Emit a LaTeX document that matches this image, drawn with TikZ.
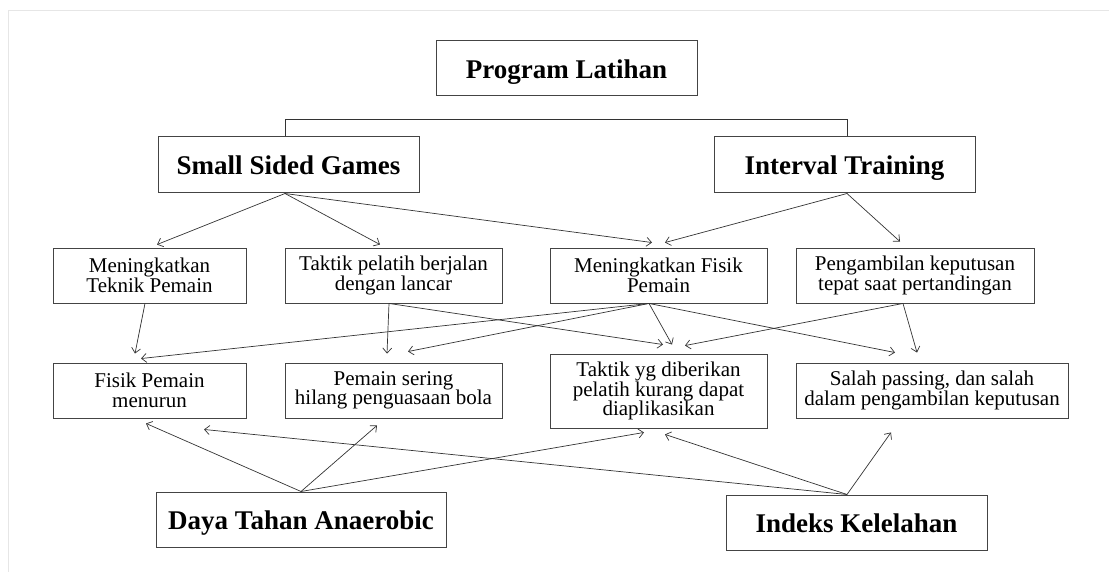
\documentclass[tikz,border=0pt]{standalone}
\usepackage{fontspec}
\setmainfont{Liberation Serif}
\usetikzlibrary{arrows.meta,calc}
\definecolor{boxline}{HTML}{444444}
\definecolor{arrline}{HTML}{333333}
\definecolor{frameline}{HTML}{E6E6E6}
\tikzset{
  bigbox/.style={draw=boxline,line width=1pt,minimum height=55pt,inner sep=0pt,
    text height=20pt,text depth=0pt,
    font=\fontsize{27}{27}\selectfont\bfseries},
  smallbox/.style={draw=boxline,line width=0.9pt,minimum height=55pt,inner sep=0pt,align=center,
    font=\fontsize{21}{19.5}\selectfont},
  conn/.style={draw=arrline,line width=0.7pt,-{Straight Barb[length=5pt,width=9pt]}},
  plain/.style={draw=arrline,line width=0.8pt}
}
\begin{document}
\begin{tikzpicture}[x=1pt,y=-1pt]
\useasboundingbox (0,0) rectangle (1109,572);
\draw[frameline,line width=1pt] (8,572) -- (8,11) -- (1109,11);

% nodes
\node[bigbox,minimum width=261pt] (PL) at (566.5,68.5) {Program Latihan};
\node[bigbox,minimum width=261pt,minimum height=56pt] (SSG) at (288.5,165) {Small Sided Games};
\node[bigbox,minimum width=261pt,minimum height=56pt] (IT) at (844.5,165) {Interval Training};

\node[smallbox,minimum width=193pt] (MT) at (149.5,275.5) {Meningkatkan\\Teknik Pemain};
\node[smallbox,minimum width=217pt] (TP) at (393.5,275.5) {Taktik pelatih berjalan\\dengan lancar};
\node[smallbox,minimum width=217pt] (MF) at (658.5,275.5) {Meningkatkan Fisik\\Pemain};
\node[smallbox,minimum width=238pt] (PK) at (915,275.5) {Pengambilan keputusan\\tepat saat pertandingan};

\node[smallbox,minimum width=193pt] (FM) at (149.5,390.5) {Fisik Pemain\\menurun};
\node[smallbox,minimum width=217pt] (PS) at (393.5,390.5) {Pemain sering\\hilang penguasaan bola};
\node[smallbox,minimum width=217pt,minimum height=74pt] (TY) at (658.5,391) {Taktik yg diberikan\\pelatih kurang dapat\\diaplikasikan};
\node[smallbox,minimum width=272pt] (SP) at (932,390.5) {Salah passing, dan salah\\dalam pengambilan keputusan};

\node[bigbox,minimum width=290pt] (DT) at (301,519.5) {Daya Tahan Anaerobic};
\node[bigbox,minimum width=261pt] (IK) at (856.5,522.5) {Indeks Kelelahan};

% bracket
\draw[plain] ($(SSG.north)+(-3.5,0)$) -- ($(SSG.north)+(-3.5,-17)$) -| ($(IT.north)+(2.5,0)$);

% level 1 -> level 2
\draw[conn] ($(SSG.south)+(-3.5,0)$) -- ($(MT.north)+(7.5,-3)$);
\draw[conn] ($(SSG.south)+(-3.5,0)$) -- ($(TP.north)+(-13.5,-3)$);
\draw[conn] ($(SSG.south)+(-3.5,0)$) -- ($(MF.north)+(-6.5,-5)$);
\draw[conn] ($(IT.south)+(2.5,0)$) -- ($(MF.north)+(6.5,-5)$);
\draw[conn] ($(IT.south)+(2.5,0)$) -- ($(PK.north)+(-15,-6)$);

% level 2 -> level 3
\draw[conn] ($(MT.south)+(-4.5,0)$) -- ($(FM.north)+(-14.5,-9)$);
\draw[conn] ($(TP.south)+(-4.5,0)$) -- ($(PS.north)+(-6.5,-9)$);
\draw[conn] ($(TP.south)+(-4.5,0)$) -- ($(TY.north)+(4.5,-9)$);
\draw[conn] ($(MF.south)+(-9.5,0)$) -- ($(FM.north)+(-8.5,-4)$);
\draw[conn] ($(MF.south)+(-9.5,0)$) -- ($(PS.north)+(14.5,-11)$);
\draw[conn] ($(MF.south)+(-9.5,0)$) -- ($(TY.north)+(13.5,-9)$);
\draw[conn] ($(MF.south)+(-9.5,0)$) -- ($(SP.north)+(-37,-10)$);
\draw[conn] ($(PK.south)+(-12,0)$) -- ($(TY.north)+(26.5,-8)$);
\draw[conn] ($(PK.south)+(-12,0)$) -- ($(SP.north)+(-15,-10)$);

% bottom -> level 3
\draw[conn] (DT.north) -- ($(FM.south)+(-3.5,5)$);
\draw[conn] (DT.north) -- ($(PS.south)+(-16.5,7)$);
\draw[conn] (DT.north) -- ($(TY.south)+(-14.5,4)$);
\draw[conn] ($(IK.north)+(-9.5,0)$) -- ($(FM.south)+(54.5,11)$);
\draw[conn] ($(IK.north)+(-9.5,0)$) -- ($(TY.south)+(6.5,6)$);
\draw[conn] ($(IK.north)+(-9.5,0)$) -- ($(SP.south)+(-41,14)$);
\end{tikzpicture}
\end{document}
